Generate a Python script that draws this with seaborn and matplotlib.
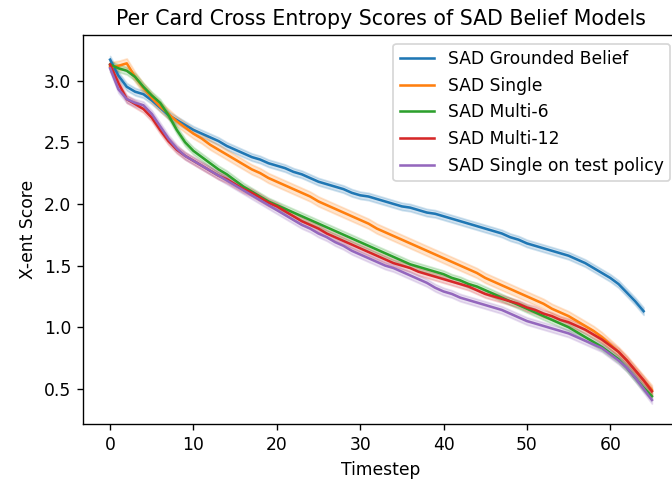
import numpy as np
import pandas as pd
import seaborn as sns
import matplotlib.pyplot as plt

# Mean cross-entropy per timestep
timesteps = list(range(66))

grounded = [3.17, 3.04, 2.95, 2.91, 2.89, 2.84, 2.78, 2.72, 2.68, 2.64,
            2.60, 2.57, 2.54, 2.51, 2.47, 2.44, 2.41, 2.38, 2.36, 2.33,
            2.31, 2.29, 2.26, 2.24, 2.21, 2.18, 2.16, 2.14, 2.12, 2.09,
            2.07, 2.06, 2.04, 2.02, 2.00, 1.98, 1.97, 1.95, 1.93, 1.92,
            1.90, 1.88, 1.86, 1.84, 1.82, 1.80, 1.78, 1.76, 1.73, 1.71,
            1.68, 1.66, 1.64, 1.62, 1.60, 1.58, 1.55, 1.52, 1.48, 1.44,
            1.40, 1.35, 1.28, 1.21, 1.13]

single = [3.11, 3.12, 3.14, 3.03, 2.94, 2.86, 2.79, 2.73, 2.67, 2.62,
          2.57, 2.53, 2.48, 2.44, 2.40, 2.36, 2.32, 2.28, 2.25, 2.21,
          2.18, 2.15, 2.12, 2.09, 2.06, 2.02, 1.99, 1.96, 1.93, 1.90,
          1.87, 1.84, 1.80, 1.77, 1.74, 1.71, 1.68, 1.65, 1.62, 1.59,
          1.56, 1.53, 1.50, 1.47, 1.44, 1.40, 1.37, 1.34, 1.31, 1.28,
          1.25, 1.22, 1.19, 1.15, 1.12, 1.09, 1.05, 1.01, 0.97, 0.92,
          0.86, 0.80, 0.73, 0.65, 0.57, 0.49]

multi6 = [3.13, 3.10, 3.08, 3.03, 2.95, 2.88, 2.82, 2.72, 2.60, 2.50,
          2.43, 2.38, 2.33, 2.28, 2.24, 2.19, 2.14, 2.10, 2.06, 2.02,
          1.99, 1.96, 1.93, 1.90, 1.87, 1.84, 1.81, 1.78, 1.75, 1.72,
          1.69, 1.66, 1.63, 1.60, 1.57, 1.54, 1.51, 1.49, 1.47, 1.45,
          1.43, 1.40, 1.38, 1.35, 1.33, 1.30, 1.27, 1.24, 1.21, 1.18,
          1.15, 1.12, 1.09, 1.06, 1.03, 1.00, 0.96, 0.92, 0.88, 0.84,
          0.79, 0.74, 0.67, 0.59, 0.51, 0.44]

multi12 = [3.13, 2.98, 2.85, 2.81, 2.77, 2.70, 2.60, 2.51, 2.44, 2.39,
           2.35, 2.31, 2.27, 2.23, 2.20, 2.16, 2.12, 2.09, 2.05, 2.01,
           1.98, 1.94, 1.90, 1.86, 1.83, 1.80, 1.76, 1.73, 1.70, 1.67,
           1.64, 1.61, 1.58, 1.55, 1.52, 1.50, 1.48, 1.45, 1.43, 1.41,
           1.39, 1.37, 1.35, 1.33, 1.30, 1.27, 1.25, 1.23, 1.21, 1.19,
           1.16, 1.14, 1.11, 1.09, 1.06, 1.04, 1.01, 0.98, 0.94, 0.90,
           0.85, 0.80, 0.73, 0.65, 0.57, 0.48]

single_test = [3.10, 2.93, 2.85, 2.82, 2.80, 2.73, 2.63, 2.53, 2.45, 2.39,
               2.35, 2.31, 2.27, 2.23, 2.19, 2.15, 2.11, 2.07, 2.03, 1.99,
               1.95, 1.91, 1.87, 1.83, 1.80, 1.76, 1.73, 1.69, 1.66, 1.62,
               1.59, 1.56, 1.53, 1.50, 1.48, 1.45, 1.42, 1.39, 1.36, 1.32,
               1.29, 1.27, 1.24, 1.22, 1.20, 1.18, 1.16, 1.14, 1.11, 1.08,
               1.05, 1.03, 1.01, 0.99, 0.97, 0.95, 0.92, 0.89, 0.86, 0.83,
               0.78, 0.73, 0.67, 0.59, 0.50, 0.41]

# half-width of the shaded interval for each model
spread = {"SAD Grounded Belief": 0.03, "SAD Single": 0.04, "SAD Multi-6": 0.03,
          "SAD Multi-12": 0.03, "SAD Single on test policy": 0.03}

series = {
    "SAD Grounded Belief": grounded,
    "SAD Single": single,
    "SAD Multi-6": multi6,
    "SAD Multi-12": multi12,
    "SAD Single on test policy": single_test,
}

# Long-form table: lower / mean / upper per timestep so seaborn draws the band
rows = []
for name, vals in series.items():
    w = spread[name]
    for t, v in zip(timesteps, vals):
        for off in (-w, 0.0, w):
            rows.append({"Timestep": t, "X-ent Score": v + off, "Model": name})
df = pd.DataFrame(rows)

dpi = 123
fig = plt.figure(figsize=(672 / dpi, 479 / dpi), dpi=dpi)
ax = fig.add_axes([83 / 672, 1 - 424 / 479, 596 / 672, 389 / 479])

sns.lineplot(data=df, x="Timestep", y="X-ent Score", hue="Model",
             palette="tab10", errorbar=("pi", 100), ax=ax)

ax.set_xlim(-3.25, 68.25)
ax.set_ylim(0.215, 3.37)
ax.set_title("Per Card Cross Entropy Scores of SAD Belief Models")
ax.legend(title=None, loc="upper right")

plt.savefig("out.png", dpi=dpi)
